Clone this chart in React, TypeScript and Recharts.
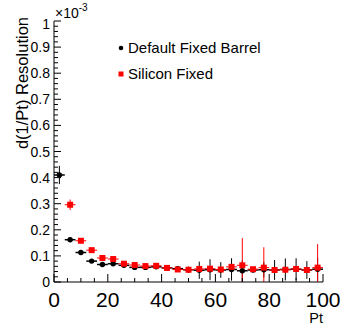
import { ErrorBar, Legend, Scatter, ScatterChart, XAxis, YAxis } from "recharts";

const FONT = "'Liberation Sans', Arial, Helvetica, sans-serif";

// bins of width 4 in Pt, values in units of 1e-3
const binCenters = [2, 6, 10, 14, 18, 22, 26, 30, 34, 38, 42, 46, 50, 54, 58, 62, 66, 70, 74, 78, 82, 86, 90, 94, 98];
const binHalfWidth = 2;

const defaultRes = [0.41, 0.162, 0.113, 0.08, 0.067, 0.07, 0.064, 0.056, 0.056, 0.058, 0.054, 0.051, 0.047, 0.045, 0.047, 0.046, 0.048, 0.043, 0.046, 0.047, 0.046, 0.048, 0.049, 0.046, 0.049];
const defaultErr = [0.035, 0.005, 0.004, 0.004, 0.004, 0.005, 0.005, 0.005, 0.006, 0.006, 0.008, 0.01, 0.012, 0.033, 0.04, 0.03, 0.043, 0.04, 0.01, 0.03, 0.038, 0.042, 0.042, 0.034, 0.045];

const siliconRes = [null, 0.296, 0.158, 0.122, 0.092, 0.088, 0.07, 0.065, 0.061, 0.062, 0.054, 0.048, 0.047, 0.05, 0.051, 0.048, 0.058, 0.064, 0.049, 0.055, 0.046, 0.047, 0.05, 0.046, 0.055];
const siliconErr = [null, 0.02, 0.005, 0.004, 0.005, 0.005, 0.004, 0.004, 0.004, 0.004, 0.004, 0.004, 0.004, 0.004, 0.004, 0.004, 0.006, 0.104, 0.005, 0.078, 0.004, 0.004, 0.004, 0.004, 0.09];

const xTicks = [0, 5, 10, 15, 20, 25, 30, 35, 40, 45, 50, 55, 60, 65, 70, 75, 80, 85, 90, 95, 100];
const xTickLabels = ["0", "20", "40", "60", "80", "100"];
const yTicks = Array.from({ length: 51 }, (_, i) => i / 50);
const yTickLabels = ["0", "0.1", "0.2", "0.3", "0.4", "0.5", "0.6", "0.7", "0.8", "0.9", "1"];

function rows(res: (number | null)[], err: (number | null)[]) {
  return binCenters
    .map((x, i) => {
      const y = res[i];
      const e = err[i];
      if (y == null || e == null) return null;
      // clip the lower error at the frame like ROOT does
      return { x, y, ex: binHalfWidth, ey: [Math.min(e, y), e] };
    })
    .filter((r) => r !== null);
}

const defaultRows = rows(defaultRes, defaultErr);
const siliconRows = rows(siliconRes, siliconErr);

const isMajorX = (v: number) => Math.round(v) % 20 === 0;
const isMajorY = (v: number) => Math.round(v * 50) % 5 === 0;

function BottomTick(p: any) {
  const v = p.payload.value;
  const major = isMajorX(v);
  return (
    <g>
      <line x1={p.x} x2={p.x} y1={p.y} y2={p.y - (major ? 8 : 4)} stroke="#000" />
      {major && (
        <text x={p.x} y={p.y + 25} textAnchor="middle" fontSize={21} fontFamily={FONT} fill="#000">
          {xTickLabels[Math.round(v / 20)]}
        </text>
      )}
    </g>
  );
}

function TopTick(p: any) {
  const major = isMajorX(p.payload.value);
  return <line x1={p.x} x2={p.x} y1={p.y} y2={p.y + (major ? 6 : 3)} stroke="#000" />;
}

function LeftTick(p: any) {
  const v = p.payload.value;
  const major = isMajorY(v);
  const idx = Math.round(v * 10);
  return (
    <g>
      <line x1={p.x} x2={p.x + (major ? 7 : 4)} y1={p.y} y2={p.y} stroke="#000" />
      {major && (
        <text
          x={p.x - 4}
          y={p.y + (idx === 10 ? 3 : 0)}
          textAnchor="end"
          dominantBaseline="central"
          fontSize={14}
          fontFamily={FONT}
          fill="#000"
        >
          {yTickLabels[idx]}
        </text>
      )}
    </g>
  );
}

function RightTick(p: any) {
  const major = isMajorY(p.payload.value);
  return <line x1={p.x} x2={p.x - (major ? 7 : 4)} y1={p.y} y2={p.y} stroke="#000" />;
}

function YTitle(p: any) {
  const vb = p.viewBox;
  const tx = 28;
  const ty = vb.y - 4;
  return (
    <g>
      <text
        x={tx}
        y={ty}
        transform={`rotate(-90 ${tx} ${ty})`}
        textAnchor="end"
        fontSize={16.5}
        fontFamily={FONT}
        fill="#000"
      >
        d(1/Pt) Resolution
      </text>
      <text x={vb.x + vb.width + 1} y={vb.y - 3} fontSize={14} fontFamily={FONT} fill="#000">
        ×10
        <tspan dy={-7} fontSize={10}>
          -3
        </tspan>
      </text>
    </g>
  );
}

function XTitle(p: any) {
  const vb = p.viewBox;
  return (
    <text x={vb.x + vb.width} y={vb.y + 41} textAnchor="end" fontSize={14.5} fontFamily={FONT} fill="#000">
      Pt
    </text>
  );
}

function LegendBox() {
  return (
    <svg width={190} height={50} style={{ display: "block", overflow: "visible" }}>
      <circle cx={4} cy={5} r={2.3} fill="#000" />
      <text x={11} y={10} fontSize={15} fontFamily={FONT} fill="#000">
        Default Fixed Barrel
      </text>
      <rect x={1.5} y={28.5} width={5} height={5} fill="#ff0000" />
      <text x={11} y={36} fontSize={15} fontFamily={FONT} fill="#000">
        Silicon Fixed
      </text>
    </svg>
  );
}

const dot = (p: any) => <circle cx={p.cx} cy={p.cy} r={2.7} fill="#000" />;
const square = (p: any) => <rect x={p.cx - 3} y={p.cy - 3} width={6} height={6} fill="#ff0000" />;

export default function App() {
  return (
    <div style={{ position: "absolute", left: 0, top: 0, background: "#fff" }}>
      <ScatterChart width={342} height={325} margin={{ top: 21, right: 19, bottom: 0, left: 0 }}>
        <XAxis
          xAxisId="b"
          type="number"
          dataKey="x"
          domain={[0, 100]}
          ticks={xTicks}
          interval={0}
          tick={BottomTick}
          tickLine={false}
          tickSize={0}
          tickMargin={0}
          height={43}
          axisLine={{ stroke: "#000" }}
          label={XTitle}
          allowDataOverflow
        />
        <XAxis
          xAxisId="t"
          orientation="top"
          type="number"
          domain={[0, 100]}
          ticks={xTicks}
          interval={0}
          tick={TopTick}
          tickLine={false}
          tickSize={0}
          tickMargin={0}
          height={0}
          axisLine={{ stroke: "#000" }}
          allowDataOverflow
        />
        <YAxis
          yAxisId="l"
          type="number"
          dataKey="y"
          domain={[0, 1]}
          ticks={yTicks}
          interval={0}
          tick={LeftTick}
          tickLine={false}
          tickSize={0}
          tickMargin={0}
          width={54}
          axisLine={{ stroke: "#000" }}
          label={YTitle}
          allowDataOverflow
        />
        <YAxis
          yAxisId="r"
          orientation="right"
          type="number"
          domain={[0, 1]}
          ticks={yTicks}
          interval={0}
          tick={RightTick}
          tickLine={false}
          tickSize={0}
          tickMargin={0}
          width={0}
          axisLine={{ stroke: "#000" }}
          allowDataOverflow
        />
        <Legend
          layout="vertical"
          align="center"
          verticalAlign="middle"
          wrapperStyle={{ left: 117, top: 43, width: 190, height: 50 }}
          content={LegendBox}
        />
        <Scatter xAxisId="b" yAxisId="l" data={defaultRows} shape={dot} isAnimationActive={false}>
          <ErrorBar dataKey="ex" direction="x" width={0} stroke="#000" strokeWidth={1.5} />
          <ErrorBar dataKey="ey" direction="y" width={0} stroke="#000" strokeWidth={1} />
        </Scatter>
        <Scatter xAxisId="b" yAxisId="l" data={siliconRows} shape={square} isAnimationActive={false}>
          <ErrorBar dataKey="ex" direction="x" width={0} stroke="#ff0000" strokeWidth={1} />
          <ErrorBar dataKey="ey" direction="y" width={0} stroke="#ff0000" strokeWidth={1} />
        </Scatter>
      </ScatterChart>
    </div>
  );
}
